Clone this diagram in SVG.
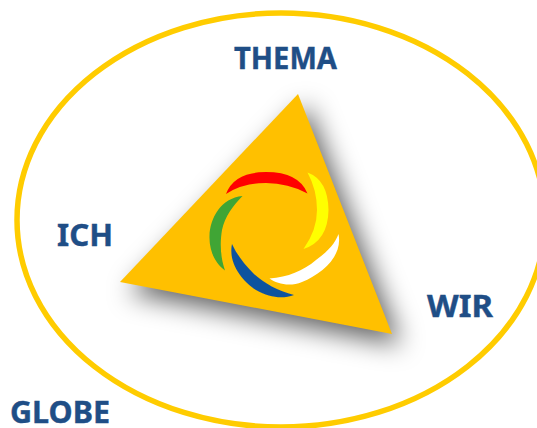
<svg xmlns="http://www.w3.org/2000/svg" width="537" height="428" viewBox="0 0 537 428">
<style>
.l{font-family:"Noto Sans","DejaVu Sans",sans-serif;font-weight:700;font-size:30px;fill:#1f4e86;stroke:#1f4e86;stroke-width:.4px}
</style>
<defs>
<filter id="s" x="-30%" y="-30%" width="160%" height="160%"><feGaussianBlur stdDeviation="13"/></filter>
<filter id="b" x="-10%" y="-10%" width="120%" height="120%"><feGaussianBlur stdDeviation="0.4"/></filter>
</defs>
<rect width="537" height="428" fill="#fff"/>
<ellipse id="globe-ring" cx="281" cy="220" rx="264" ry="207" fill="none" stroke="#ffcc00" stroke-width="5.500"/>
<g id="triangle">
<polygon points="307,105 129,293 401,345" fill="#000" fill-opacity=".62" filter="url(#s)"/>
<polygon points="298,94 120,282 392,334" fill="#ffc000"/>
</g>
<g id="swirl" filter="url(#b)">
<path d="M226,194 Q234,172 266,172 Q299,172 307.500,193.500 Q288,183 266,183 Q243,183 226,194Z" fill="#ff0000"/>
<path d="M307.500,172.500 Q328,180 328.500,210 Q328,241 303.500,249 Q317,230 317,210 Q317,190 307.500,172.500Z" fill="#ffff00"/>
<path d="M338.500,234 C343,256 322,274 302,282 C290,287 277,284 269.500,278.500 C288,277 303,271 316,260 C327,252 335,244 338.500,234Z" fill="#ffffff"/>
<path d="M232,244 C228,263 242,281 256,290 C270,298 283,299 294,295 C278,291 264,283 254,274 C245,265 237,255 232,244Z" fill="#0f529f"/>
<path d="M242.500,196 C221,198 210,218 209.500,236 C209,252 216,264 225,270.500 C220,256 220,242 222,230 C225,216 233,206 242.500,196Z" fill="#3fa535"/>
</g>
<g id="thema"><text class="l" x="234" y="69" textLength="103" lengthAdjust="spacingAndGlyphs">THEMA</text></g>
<g id="ich"><text class="l" x="57" y="246" textLength="56" lengthAdjust="spacingAndGlyphs">ICH</text></g>
<g id="wir"><text class="l" x="427" y="317" textLength="66" lengthAdjust="spacingAndGlyphs">WIR</text></g>
<g id="globe"><text class="l" x="10" y="423" textLength="100" lengthAdjust="spacingAndGlyphs">GLOBE</text></g>
</svg>
